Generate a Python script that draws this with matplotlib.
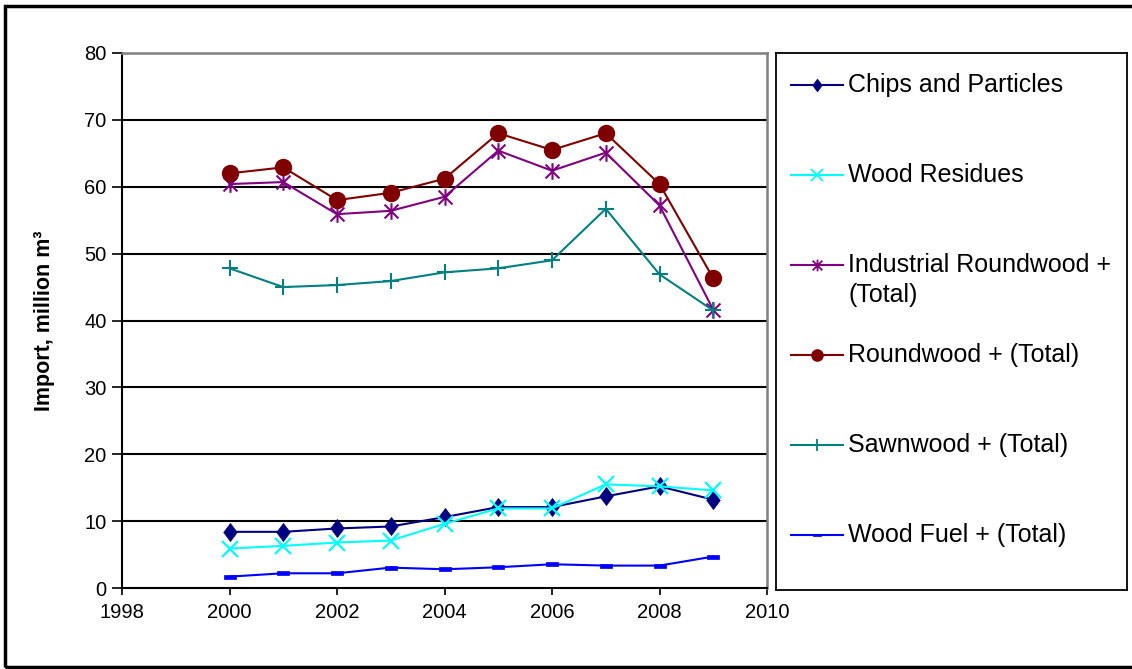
import matplotlib
matplotlib.use("Agg")
import matplotlib.pyplot as plt
from matplotlib.path import Path
from matplotlib.patches import Rectangle

plt.rcParams['font.family'] = ['Liberation Sans', 'DejaVu Sans']

# ---------------- data ----------------
years = [2000, 2001, 2002, 2003, 2004, 2005, 2006, 2007, 2008, 2009]
chips_particles = [8.4, 8.4, 8.9, 9.2, 10.6, 12.1, 12.1, 13.7, 15.2, 13.2]
wood_residues = [5.9, 6.3, 6.8, 7.1, 9.6, 11.9, 11.9, 15.5, 15.2, 14.6]
industrial_roundwood = [60.4, 60.7, 55.9, 56.4, 58.5, 65.4, 62.4, 65.1, 57.2, 41.6]
roundwood = [62.0, 62.9, 58.0, 59.1, 61.2, 68.0, 65.5, 68.0, 60.4, 46.3]
sawnwood = [47.8, 45.0, 45.3, 45.9, 47.2, 47.8, 49.0, 56.7, 46.9, 41.5]
wood_fuel = [1.7, 2.2, 2.2, 3.05, 2.8, 3.1, 3.55, 3.35, 3.35, 4.7]

labels = ["Chips and Particles", "Wood Residues", "Industrial Roundwood +\n(Total)",
          "Roundwood + (Total)", "Sawnwood + (Total)", "Wood Fuel + (Total)"]
series = [chips_particles, wood_residues, industrial_roundwood, roundwood, sawnwood, wood_fuel]

x_ticks = [1998, 2000, 2002, 2004, 2006, 2008, 2010]
y_ticks = [0, 10, 20, 30, 40, 50, 60, 70, 80]
y_label = "Import, million m³"

# ---------------- styles ----------------
diamond = Path([(0, 1), (0.75, 0), (0, -1), (-0.75, 0), (0, 1)],
               [Path.MOVETO, Path.LINETO, Path.LINETO, Path.LINETO, Path.CLOSEPOLY])
asterisk = Path([(-1, -1), (1, 1), (-1, 1), (1, -1), (0, -1.2), (0, 1.2)],
                [Path.MOVETO, Path.LINETO, Path.MOVETO, Path.LINETO, Path.MOVETO, Path.LINETO])
dash = Path([(-1, -0.35), (1, -0.35), (1, 0.35), (-1, 0.35), (-1, -0.35)],
            [Path.MOVETO, Path.LINETO, Path.LINETO, Path.LINETO, Path.CLOSEPOLY])

styles = [
    dict(color="#000080", marker=diamond, markersize=13, mfc="#000080", mec="#000080", mew=0.5),
    dict(color="#00FFFF", marker="x", markersize=12, mew=1.6),
    dict(color="#800080", marker=asterisk, markersize=12, mew=1.5),
    dict(color="#800000", marker="o", markersize=11.5, mfc="#800000", mec="#800000"),
    dict(color="#008080", marker="+", markersize=12, mew=1.5),
    dict(color="#0000FF", marker=dash, markersize=8, mfc="#0000FF", mec="#0000FF", mew=0.5),
]

W, H = 1132, 669
fig = plt.figure(figsize=(W / 100, H / 100), dpi=100)
fig.patch.set_facecolor("white")

ax = fig.add_axes([122 / W, 1 - 588 / H, (767 - 122) / W, (588 - 53) / H])
for vals, st in zip(series, styles):
    ax.plot(years, vals, lw=1.5, zorder=3, clip_on=False, **st)

ax.set_xlim(1998, 2010)
ax.set_ylim(0, 80)
ax.set_xticks(x_ticks)
ax.set_yticks(y_ticks)
ax.tick_params(axis="both", labelsize=14.5, colors="black", width=1.2)
ax.tick_params(axis="y", length=7, pad=4)
ax.tick_params(axis="x", length=5, pad=6)
for y in y_ticks[1:-1]:
    ax.axhline(y, color="black", lw=1.5, zorder=1)
ax.spines["left"].set_color("black")
ax.spines["left"].set_linewidth(1.5)
ax.spines["bottom"].set_color("black")
ax.spines["bottom"].set_linewidth(1.5)
ax.spines["top"].set_color("#808080")
ax.spines["top"].set_linewidth(1.8)
ax.spines["right"].set_color("#808080")
ax.spines["right"].set_linewidth(1.8)
ax.set_ylabel(y_label, fontsize=15.5, fontweight="bold")
ax.yaxis.set_label_coords(-(122 - 55) / (767 - 122), 0.5)

# ---------------- legend (drawn in its own axes) ----------------
LT, LB, LL, LR = 53, 590, 776, 1127
lax = fig.add_axes([LL / W, 1 - LB / H, (LR - LL) / W, (LB - LT) / H])
lax.set_xlim(0, 1)
lax.set_ylim(1, 0)
lax.set_xticks([])
lax.set_yticks([])
for s in lax.spines.values():
    s.set_color("black")
    s.set_linewidth(1.3)
lh = LB - LT
lw_ = LR - LL
row0 = (84.7 - LT) / lh
step = 90.0 / lh
line_step = 30.5 / lh
hx0, hx1 = (791 - LL) / lw_, (843 - LL) / lw_
tx = (848 - LL) / lw_
for i, (lab, st) in enumerate(zip(labels, styles)):
    yy = row0 + i * step
    st2 = dict(st)
    st2["markersize"] = st.get("markersize", 10) * 0.7
    if "mew" in st2:
        st2["mew"] = min(st2["mew"], 1.3)
    lax.plot([hx0, hx1], [yy, yy], lw=1.5, color=st["color"])
    lax.plot([(hx0 + hx1) / 2], [yy], lw=0, **st2)
    for k, part in enumerate(lab.split("\n")):
        lax.text(tx, yy + k * line_step, part, fontsize=18, va="center", ha="left", color="black")

# outer frame
fig.add_artist(Rectangle((5 / W, 2 / H), 1.2, 1 - 7.5 / H, transform=fig.transFigure,
                         fill=False, edgecolor="black", lw=2.5, clip_on=False))

fig.savefig("out.png", dpi=100, facecolor="white")
